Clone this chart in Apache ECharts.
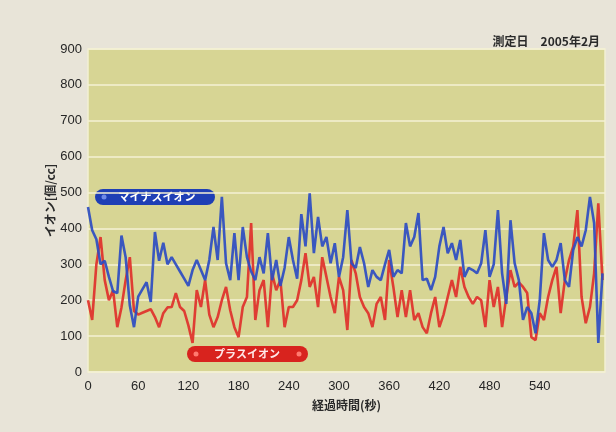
<!DOCTYPE html>
<html><head><meta charset="utf-8">
<script src="https://cdn.jsdelivr.net/npm/echarts@6/dist/echarts.min.js"></script>
<style>html,body{margin:0;padding:0;background:#e8e4d8;}#c{width:616px;height:432px;}</style>
</head><body><div id="c"></div>
<script>
const times = [];
for (let t = 0; t <= 615; t += 5) times.push(t);
const minusIon = [460,395,370,300,310,265,225,220,380,320,185,125,210,230,250,195,390,310,360,300,320,300,280,260,240,284,312,284,256,312,404,312,488,303,256,387,256,404,320,280,256,320,275,387,256,312,240,290,376,312,260,440,350,498,331,432,350,376,303,359,265,320,451,303,290,348,303,237,284,265,256,300,340,265,284,275,415,350,376,443,256,260,228,265,350,404,331,359,312,368,265,290,284,275,303,395,265,300,451,275,190,423,303,256,145,181,164,108,200,387,312,293,312,359,256,237,340,376,350,395,488,415,81,275];
const plusIon = [200,145,300,376,256,200,228,125,180,256,320,170,160,165,170,175,153,125,164,180,181,220,181,170,130,81,228,181,256,160,125,153,200,237,172,125,97,181,209,415,145,228,256,125,275,228,256,125,181,181,200,256,331,237,265,181,320,265,209,164,265,228,117,312,275,209,181,164,125,190,209,145,312,237,153,228,153,228,145,164,125,108,164,209,125,160,209,256,209,293,237,209,190,209,200,125,256,181,237,125,209,284,237,250,237,220,97,89,164,145,209,256,293,164,256,312,350,451,209,136,181,275,470,256];
const yTicks = [0,100,200,300,400,500,600,700,800,900];
const xTickStep = 60;
const seriesNames = ['マイナスイオン','プラスイオン'];
const titleText = '測定日　2005年2月';
const xName = '経過時間(秒)';
const yName = 'イオン[個/cc]';

const chart = echarts.init(document.getElementById('c'), null, {renderer:'canvas'});
const pair = arr => arr.map((v,i)=>[times[i], v]);
const cjk = '"Noto Sans CJK JP", sans-serif';
chart.setOption({
  backgroundColor:'#e8e4d8',
  animation:false,
  title:{text:titleText, right:11, top:30, textStyle:{fontSize:12, fontWeight:'bold', color:'#2a2a2a', fontFamily:cjk}},
  grid:{left:88, right:11, top:49, bottom:60, show:true, backgroundColor:'#d7d594', borderColor:'#f2efd2', borderWidth:1.5},
  xAxis:{type:'value', min:0, max:618, interval:xTickStep,
    name:xName, nameLocation:'middle', nameGap:27,
    nameTextStyle:{fontSize:12, color:'#2a2a2a', fontFamily:cjk, fontWeight:'bold'},
    axisLine:{show:false}, axisTick:{show:false}, splitLine:{show:false},
    axisLabel:{color:'#262626', fontSize:13, fontFamily:'Liberation Sans', margin:8,
      formatter:v => v>=600 ? '' : String(v)}},
  yAxis:{type:'value', min:0, max:900, interval:100,
    name:yName, nameLocation:'middle', nameGap:32, nameRotate:90, nameMoveOverlap:false,
    nameTextStyle:{fontSize:12, color:'#2a2a2a', fontFamily:cjk, fontWeight:'bold', padding:[0,0,0,20]},
    axisLine:{show:false}, axisTick:{show:false},
    splitLine:{lineStyle:{color:'#f4f1d4', width:1.5}},
    axisLabel:{color:'#262626', fontSize:13, fontFamily:'Liberation Sans', margin:6,
      formatter:v => yTicks.includes(v) ? String(v) : ''}},
  series:[
    {name:seriesNames[0], type:'line', data:pair(minusIon), showSymbol:false, z:3,
     lineStyle:{color:'#2d4cc2', width:2.6, opacity:0.92}},
    {name:seriesNames[1], type:'line', data:pair(plusIon), showSymbol:false, z:2,
     lineStyle:{color:'#e0302a', width:2.6, opacity:0.92}}
  ],
  graphic:[
    {type:'group', left:95, top:189, children:[
      {type:'rect', shape:{x:0,y:0,width:120,height:16,r:8}, style:{fill:'#1e3fb5'}},
      {type:'circle', shape:{cx:9,cy:8,r:2.5}, style:{fill:'#6f8ae8'}},
      {type:'text', style:{x:62,y:8,text:seriesNames[0], fill:'#ffffff', font:'bold 11px "Noto Sans CJK JP"', align:'center', verticalAlign:'middle'}}
    ]},
    {type:'group', left:187, top:346, children:[
      {type:'rect', shape:{x:0,y:0,width:121,height:16,r:8}, style:{fill:'#d8231e'}},
      {type:'circle', shape:{cx:9,cy:8,r:2.5}, style:{fill:'#ff7a70'}},
      {type:'circle', shape:{cx:112,cy:8,r:2.5}, style:{fill:'#ff7a70'}},
      {type:'text', style:{x:60,y:8,text:seriesNames[1], fill:'#ffe8e8', font:'bold 11px "Noto Sans CJK JP"', align:'center', verticalAlign:'middle'}}
    ]}
  ]
});
</script></body></html>
